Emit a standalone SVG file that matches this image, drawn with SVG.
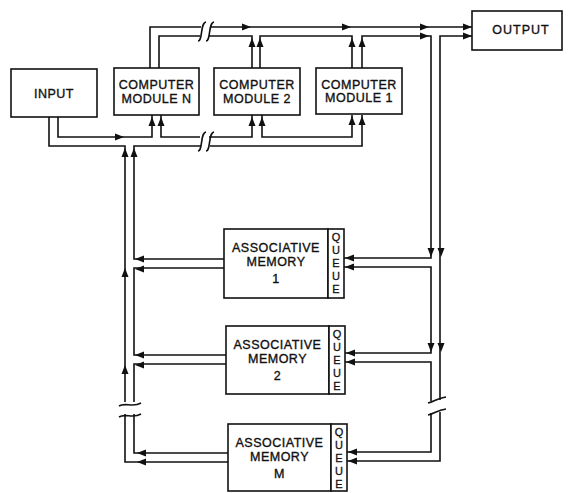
<svg xmlns="http://www.w3.org/2000/svg" width="571" height="493" viewBox="0 0 571 493">
<style>
.box{fill:#fff;stroke:#111;stroke-width:1.6}
.w{fill:none;stroke:#111;stroke-width:1.6;stroke-linejoin:miter}
.t{font-family:"Liberation Sans",Arial,sans-serif;font-size:12.5px;fill:#111;stroke:#111;stroke-width:0.35px;text-anchor:middle;letter-spacing:0.5px}
.q{font-family:"Liberation Sans",Arial,sans-serif;font-size:11px;fill:#111;stroke:#111;stroke-width:0.3px;text-anchor:middle}
.ah{fill:#111}
</style>
<defs>
<path id="ah" d="M0,0 L-9,-3.5 L-9,3.5 Z"/>
</defs>
<rect width="571" height="493" fill="#fff"/>

<g id="connectors">
<!-- top bus -->
<path class="w" d="M150,68 V27 H201 M210,27 H472"/>
<path class="w" d="M159,68 V36 H200 M209,36 H252 V68 M260,68 V36 H352 V68 M362,68 V36 H431 V258 H344"/>
<path class="w" d="M472,36 H440 V400 M440,412 V461 H347"/>
<path class="w" d="M344,267 H431 V353 H345 M345,362 H431 V401 M431,413 V452 H347"/>
<path class="w" d="M198,41 C203,41 200,23 206,22 M206,41 C211,41 208,23 214,22"/>
<path class="w" d="M428,403 C434,402 437,398 446,397 M428,415 C434,414 437,410 446,409"/>
<!-- bottom bus -->
<path class="w" d="M58,117 V137 H152 V115 M161,115 V137 H200 M209,137 H252 V115 M262,115 V137 H352 V115"/>
<path class="w" d="M49,117 V146 H125 V402 M125,414 V462 H228"/>
<path class="w" d="M224,259 H134 V146 H201 M210,146 H362 V115"/>
<path class="w" d="M224,268 H134 V355 H226 M226,364 H134 V402 M134,414 V453 H228"/>
<path class="w" d="M198,151 C203,151 200,133 206,132 M206,151 C211,151 208,133 214,132"/>
<path class="w" d="M119,406 C125,402 133,408 141,403 M119,417 C125,413 133,419 141,414"/>
<!-- arrowheads -->
<use href="#ah" class="ah" transform="translate(251,27)"/>
<use href="#ah" class="ah" transform="translate(252,38) rotate(-90)"/>
<use href="#ah" class="ah" transform="translate(260,38) rotate(-90)"/>
<use href="#ah" class="ah" transform="translate(351,27)"/>
<use href="#ah" class="ah" transform="translate(352,38) rotate(-90)"/>
<use href="#ah" class="ah" transform="translate(362,38) rotate(-90)"/>
<use href="#ah" class="ah" transform="translate(429,27)"/>
<use href="#ah" class="ah" transform="translate(429,36)"/>
<use href="#ah" class="ah" transform="translate(472,27)"/>
<use href="#ah" class="ah" transform="translate(472,36)"/>
<use href="#ah" class="ah" transform="translate(124,137)"/>
<use href="#ah" class="ah" transform="translate(152,117) rotate(-90)"/>
<use href="#ah" class="ah" transform="translate(161,117) rotate(-90)"/>
<use href="#ah" class="ah" transform="translate(252,117) rotate(-90)"/>
<use href="#ah" class="ah" transform="translate(262,117) rotate(-90)"/>
<use href="#ah" class="ah" transform="translate(352,116) rotate(-90)"/>
<use href="#ah" class="ah" transform="translate(362,116) rotate(-90)"/>
<use href="#ah" class="ah" transform="translate(125,148) rotate(-90)"/>
<use href="#ah" class="ah" transform="translate(134,148) rotate(-90)"/>
<use href="#ah" class="ah" transform="translate(135,259) rotate(180)"/>
<use href="#ah" class="ah" transform="translate(135,269) rotate(180)"/>
<use href="#ah" class="ah" transform="translate(125,268) rotate(-90)"/>
<use href="#ah" class="ah" transform="translate(135,355) rotate(180)"/>
<use href="#ah" class="ah" transform="translate(135,365) rotate(180)"/>
<use href="#ah" class="ah" transform="translate(125,365) rotate(-90)"/>
<use href="#ah" class="ah" transform="translate(137,453) rotate(180)"/>
<use href="#ah" class="ah" transform="translate(137,462) rotate(180)"/>
<use href="#ah" class="ah" transform="translate(431,257) rotate(90)"/>
<use href="#ah" class="ah" transform="translate(441,257) rotate(90)"/>
<use href="#ah" class="ah" transform="translate(345,258) rotate(180)"/>
<use href="#ah" class="ah" transform="translate(345,267) rotate(180)"/>
<use href="#ah" class="ah" transform="translate(431,352) rotate(90)"/>
<use href="#ah" class="ah" transform="translate(441,352) rotate(90)"/>
<use href="#ah" class="ah" transform="translate(346,353) rotate(180)"/>
<use href="#ah" class="ah" transform="translate(346,362) rotate(180)"/>
<use href="#ah" class="ah" transform="translate(348,452) rotate(180)"/>
<use href="#ah" class="ah" transform="translate(348,461) rotate(180)"/>
</g>

<g id="input">
<rect class="box" x="11" y="69" width="86" height="48"/>
<text class="t" x="54" y="98">INPUT</text>
</g>
<g id="module-n">
<rect class="box" x="114" y="68" width="85" height="47"/>
<text class="t" x="156.5" y="89">COMPUTER</text>
<text class="t" x="156.5" y="103">MODULE N</text>
</g>
<g id="module-2">
<rect class="box" x="214" y="68" width="86" height="47"/>
<text class="t" x="257" y="89">COMPUTER</text>
<text class="t" x="257" y="103">MODULE 2</text>
</g>
<g id="module-1">
<rect class="box" x="316" y="68" width="86" height="46"/>
<text class="t" x="359" y="89">COMPUTER</text>
<text class="t" x="359" y="102">MODULE 1</text>
</g>
<g id="output">
<rect class="box" x="472" y="11" width="90" height="39"/>
<text class="t" x="521" y="34" style="letter-spacing:1px">OUTPUT</text>
</g>
<g id="memory-1">
<rect class="box" x="224" y="229" width="104" height="69"/>
<rect class="box" x="328" y="229" width="16" height="69"/>
<text class="t" x="276" y="252">ASSOCIATIVE</text>
<text class="t" x="276" y="266">MEMORY</text>
<text class="t" x="276" y="283">1</text>
<text class="q" x="336" y="241">Q</text>
<text class="q" x="336" y="254">U</text>
<text class="q" x="336" y="267">E</text>
<text class="q" x="336" y="280">U</text>
<text class="q" x="336" y="293">E</text>
</g>
<g id="memory-2">
<rect class="box" x="226" y="326" width="103" height="68"/>
<rect class="box" x="329" y="326" width="16" height="68"/>
<text class="t" x="277.5" y="349">ASSOCIATIVE</text>
<text class="t" x="277.5" y="363">MEMORY</text>
<text class="t" x="277.5" y="380">2</text>
<text class="q" x="337" y="338">Q</text>
<text class="q" x="337" y="351">U</text>
<text class="q" x="337" y="364">E</text>
<text class="q" x="337" y="377">U</text>
<text class="q" x="337" y="390">E</text>
</g>
<g id="memory-m">
<rect class="box" x="228" y="424" width="103" height="67"/>
<rect class="box" x="331" y="424" width="16" height="67"/>
<text class="t" x="279.5" y="447">ASSOCIATIVE</text>
<text class="t" x="279.5" y="461">MEMORY</text>
<text class="t" x="279.5" y="478">M</text>
<text class="q" x="339" y="436">Q</text>
<text class="q" x="339" y="449">U</text>
<text class="q" x="339" y="462">E</text>
<text class="q" x="339" y="475">U</text>
<text class="q" x="339" y="488">E</text>
</g>
</svg>
